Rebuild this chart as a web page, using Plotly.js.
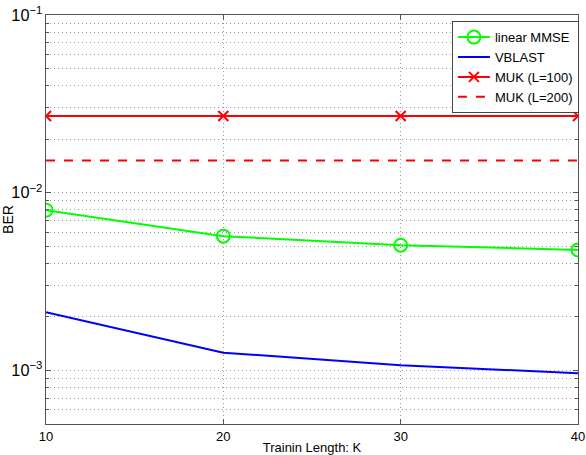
<!DOCTYPE html>
<html>
<head>
<meta charset="utf-8">
<script src="https://cdn.plot.ly/plotly-3.0.1.min.js"></script>
<style>html,body{margin:0;padding:0;background:#fff;}#chart{width:586px;height:455px;}</style>
</head>
<body>
<div id="chart"></div>
<script>
const trainingLength = [10, 20, 30, 40];
const berLinearMMSE = [0.00798, 0.00570, 0.00507, 0.00477];
const berVBLAST = [0.00213, 0.00126, 0.00107, 0.000965];
const berMUK100 = [0.0270, 0.0270, 0.0270, 0.0270];
const berMUK200 = [0.0152, 0.0152, 0.0152, 0.0152];
const seriesNames = ["linear MMSE", "VBLAST", "MUK (L=100)", "MUK (L=200)"];
const xTicks = [10, 20, 30, 40];

const traces = [
  {x: trainingLength, y: berLinearMMSE, name: seriesNames[0], mode: 'lines+markers',
   line: {color: '#00ff00', width: 2}, marker: {symbol: 'circle-open', size: 13, color: '#00ff00', line: {width: 2}}},
  {x: trainingLength, y: berVBLAST, name: seriesNames[1], mode: 'lines',
   line: {color: '#0000ff', width: 2}},
  {x: trainingLength, y: berMUK100, name: seriesNames[2], mode: 'lines+markers',
   line: {color: '#ff0000', width: 2}, marker: {symbol: 'x-thin-open', size: 10, color: '#ff0000', line: {width: 2, color: '#ff0000'}}},
  {x: trainingLength, y: berMUK200, name: seriesNames[3], mode: 'lines',
   line: {color: '#ff0000', width: 2, dash: 'dash'}}
];

const gridDash = '1px,3px';
const layout = {
  width: 586, height: 455,
  margin: {l: 46, r: 8, t: 15, b: 31, autoexpand: false},
  paper_bgcolor: '#fff', plot_bgcolor: '#fff',
  font: {family: 'Liberation Sans, Arial, sans-serif', size: 13, color: '#000'},
  showlegend: true,
  legend: {x: 0.763, y: 0.985, xanchor: 'left', yanchor: 'top', bgcolor: '#fff',
           bordercolor: '#444', borderwidth: 1, font: {size: 13}, tracegroupgap: 0, itemwidth: 32},
  xaxis: {
    range: [10, 40], tickvals: xTicks, ticktext: xTicks.map(String),
    ticks: 'inside', ticklen: 5, tickcolor: '#555', mirror: 'ticks',
    showline: true, linecolor: '#555', linewidth: 1,
    showgrid: true, gridcolor: '#999', griddash: gridDash, gridwidth: 1,
    zeroline: false, automargin: true, ticklabeloverflow: 'allow',
    tickfont: {size: 13},
    title: {text: 'Trainin Length: K', font: {size: 13}, standoff: 4}
  },
  yaxis: {
    type: 'log', range: [Math.log10(5e-4), -1], dtick: 1,
    exponentformat: 'power', showexponent: 'all',
    ticks: 'inside', ticklen: 5, tickcolor: '#555', mirror: 'ticks',
    showline: true, linecolor: '#555', linewidth: 1,
    showgrid: true, gridcolor: '#999', griddash: gridDash, gridwidth: 1,
    zeroline: false, automargin: true, ticklabeloverflow: 'allow',
    tickfont: {size: 13},
    minor: {dtick: 'D1', showgrid: true, gridcolor: '#999', griddash: gridDash, gridwidth: 1,
            ticks: 'inside', ticklen: 3, tickcolor: '#555'},
    title: {text: 'BER', font: {size: 14}, standoff: 4}
  }
};

Plotly.newPlot('chart', traces, layout, {displayModeBar: false, staticPlot: true});
</script>
</body>
</html>
